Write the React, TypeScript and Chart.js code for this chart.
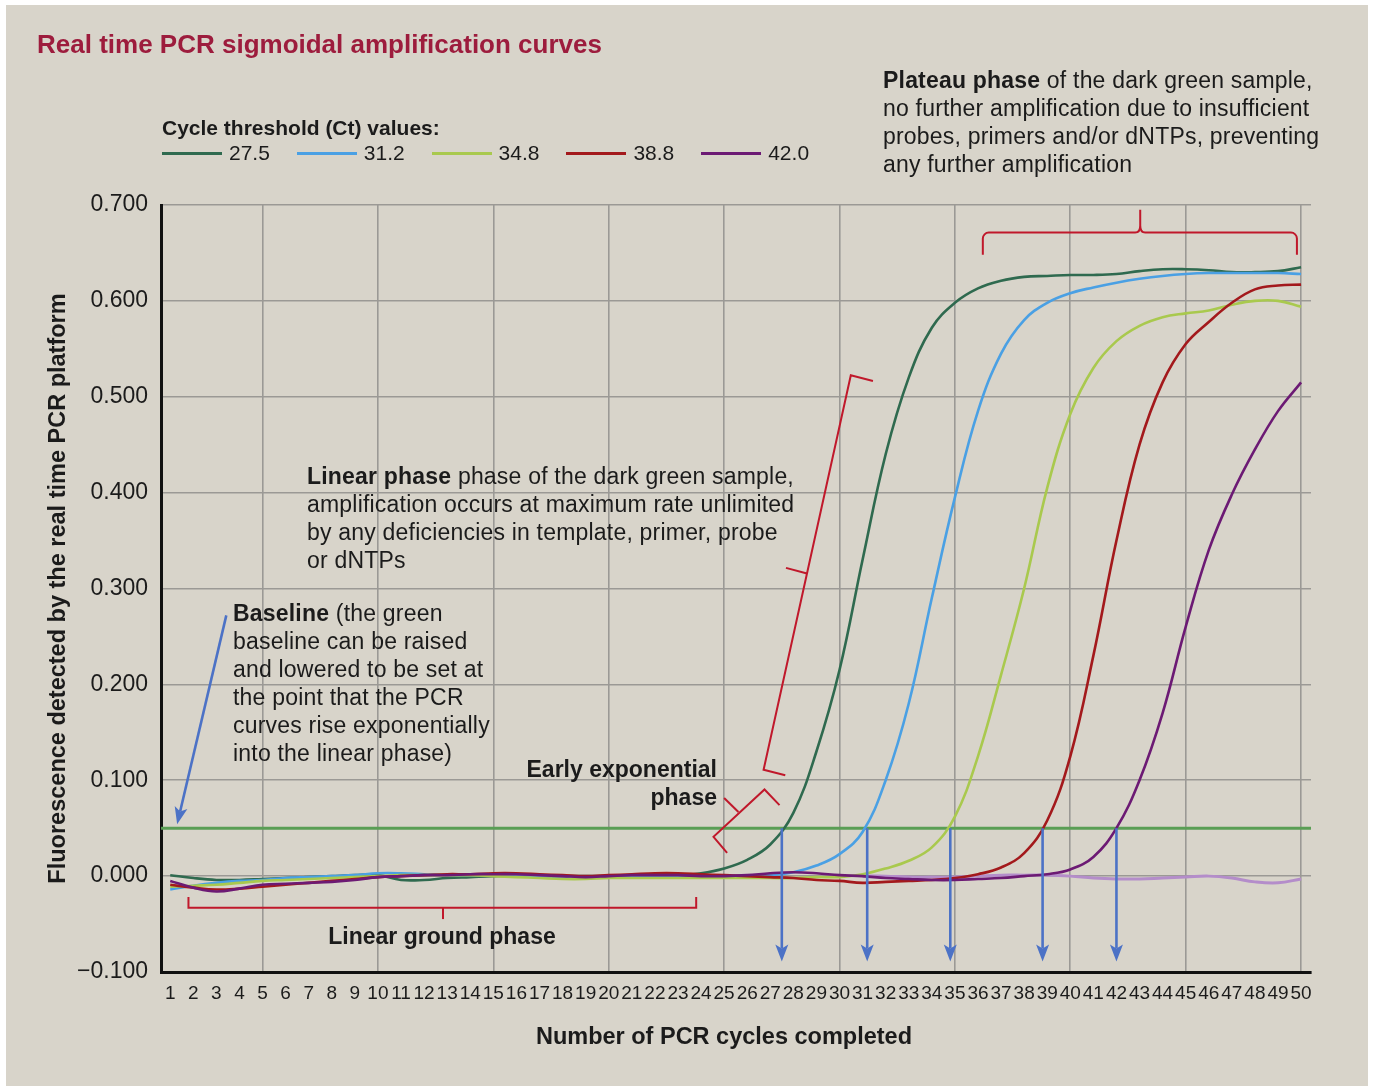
import React, { useEffect, useRef } from 'react';
import { Chart, registerables } from 'chart.js';

Chart.register(...registerables);

// ---------- DATA ----------
const CYCLES = [1, 2, 3, 4, 5, 6, 7, 8, 9, 10, 11, 12, 13, 14, 15, 16, 17, 18, 19, 20, 21, 22, 23, 24, 25, 26, 27, 28, 29, 30, 31, 32, 33, 34, 35, 36, 37, 38, 39, 40, 41, 42, 43, 44, 45, 46, 47, 48, 49, 50];

const CT_LABELS = ['27.5', '31.2', '34.8', '38.8', '42.0'];
const CT_VALUES = [27.5, 31.2, 34.8, 38.8, 42.0];

const DARK_GREEN_27_5 = [0.001, -0.002, -0.004, -0.004, -0.003, -0.002, -0.001, 0.0, 0.001, 0.001, -0.004, -0.004, -0.002, -0.001, 0.0, 0.0, 0.0, 0.0, 0.0, 0.0, 0.0, 0.0, 0.001, 0.003, 0.008, 0.017, 0.033, 0.066, 0.13, 0.215, 0.33, 0.44, 0.52, 0.572, 0.598, 0.613, 0.621, 0.625, 0.626, 0.627, 0.627, 0.628, 0.631, 0.633, 0.633, 0.632, 0.63, 0.63, 0.631, 0.635];
const BLUE_31_2 = [-0.014, -0.01, -0.007, -0.005, -0.004, -0.002, -0.001, 0.0, 0.001, 0.003, 0.003, 0.002, 0.001, 0.001, 0.001, 0.001, 0.0, 0.0, -0.001, -0.001, -0.001, -0.001, -0.001, -0.001, -0.001, 0.0, 0.001, 0.004, 0.011, 0.023, 0.046, 0.1, 0.18, 0.29, 0.395, 0.485, 0.545, 0.58, 0.598, 0.608, 0.614, 0.619, 0.623, 0.626, 0.628, 0.629, 0.629, 0.629, 0.629, 0.628];
const LIME_34_8 = [-0.011, -0.01, -0.009, -0.007, -0.005, -0.004, -0.003, -0.002, -0.001, 0.0, 0.001, 0.001, 0.001, 0.001, 0.0, -0.001, -0.002, -0.003, -0.003, -0.002, -0.002, -0.002, -0.002, -0.002, -0.002, -0.002, -0.002, -0.002, -0.001, -0.001, 0.002, 0.008, 0.016, 0.03, 0.062, 0.125, 0.21, 0.3, 0.405, 0.482, 0.53, 0.558, 0.574, 0.583, 0.587, 0.59, 0.596, 0.6, 0.6, 0.594];
const RED_38_8 = [-0.009, -0.012, -0.014, -0.013, -0.011, -0.009, -0.007, -0.005, -0.003, -0.001, 0.0, 0.001, 0.002, 0.002, 0.003, 0.003, 0.002, 0.001, 0.0, 0.001, 0.002, 0.003, 0.003, 0.002, 0.001, 0.0, -0.001, -0.002, -0.004, -0.005, -0.007, -0.006, -0.005, -0.004, -0.002, 0.002, 0.009, 0.024, 0.058, 0.125, 0.23, 0.35, 0.45, 0.515, 0.555, 0.578, 0.598, 0.612, 0.616, 0.617];
const PURPLE_42_0 = [-0.005, -0.012, -0.016, -0.013, -0.009, -0.008, -0.007, -0.006, -0.004, -0.001, 0.0, 0.001, 0.001, 0.002, 0.002, 0.002, 0.001, 0.0, -0.001, 0.0, 0.001, 0.001, 0.001, 0.0, 0.0, 0.001, 0.003, 0.004, 0.003, 0.001, 0.0, -0.002, -0.003, -0.004, -0.004, -0.003, -0.002, 0.0, 0.002, 0.007, 0.02, 0.05, 0.1, 0.17, 0.26, 0.34, 0.398, 0.445, 0.485, 0.515];
const LAVENDER_BASELINE = [null, null, null, null, null, null, null, null, null, null, null, null, null, null, null, null, null, null, null, null, null, null, null, null, null, null, null, null, null, null, 0.0, 0.0, -0.001, -0.001, -0.001, 0.0, 0.001, 0.001, 0.001, 0.0, -0.002, -0.003, -0.003, -0.002, -0.001, 0.0, -0.002, -0.006, -0.007, -0.003];

const SERIES = [DARK_GREEN_27_5, BLUE_31_2, LIME_34_8, RED_38_8, PURPLE_42_0];
const SERIES_COLORS = ['#2f6a4f', '#4aa0e4', '#a9c94e', '#a3191c', '#6c1a74'];
const LAVENDER_COLOR = '#b48dca';

const THRESHOLD = 0.05;
const Y_TICKS = [-0.1, 0, 0.1, 0.2, 0.3, 0.4, 0.5, 0.6, 0.7];
const X_MIN = 0.6;
const X_MAX = 50.43;
const ARROW_TIP_VALUE = -0.089;

// annotation geometry (data coordinates: [cycle, fluorescence])
const GROUND_BRACKET = [[1.79, -0.0219], [1.79, -0.0331], [23.79, -0.0331], [23.79, -0.0219]];
const GROUND_TICK = [[12.82, -0.0331], [12.82, -0.0448]];
const EARLY_BRACKET = [[25.13, 0.0243], [24.54, 0.041], [26.75, 0.0904], [27.4, 0.074]];
const EARLY_TICK = [[25.62, 0.0669], [25.0, 0.0815]];
const LINEAR_BRACKET = [[27.65, 0.1053], [26.71, 0.111], [30.49, 0.5224], [31.45, 0.5165]];
const LINEAR_TICK = [[28.59, 0.3156], [27.68, 0.3215]];
const PLATEAU = { x0: 36.21, x1: 49.82, xc: 43.03, yLine: 0.6712, yEnd: 0.6482, yTop: 0.6951 };
const BASELINE_ARROW = [[3.43, 0.272], [1.3, 0.0542]];

const FONT = '"Liberation Sans", Arial, Helvetica, sans-serif';
const BG = '#d8d4ca';
const GRID = '#9b9995';
const BRACKET = '#c0182b';
const ARROW = '#4c72c6';
const TEXT = '#1b1b1b';

function drawArrow(ctx: CanvasRenderingContext2D, x0: number, y0: number, x1: number, y1: number) {
  const ang = Math.atan2(y1 - y0, x1 - x0);
  const headLen = 17;
  const half = 6.5;
  const notch = 4;
  const bx = x1 - Math.cos(ang) * headLen;
  const by = y1 - Math.sin(ang) * headLen;
  ctx.strokeStyle = ARROW;
  ctx.fillStyle = ARROW;
  ctx.lineWidth = 2.6;
  ctx.beginPath();
  ctx.moveTo(x0, y0);
  ctx.lineTo(bx + Math.cos(ang) * notch, by + Math.sin(ang) * notch);
  ctx.stroke();
  const nx = -Math.sin(ang), ny = Math.cos(ang);
  ctx.beginPath();
  ctx.moveTo(x1, y1);
  ctx.lineTo(bx + nx * half, by + ny * half);
  ctx.lineTo(bx + Math.cos(ang) * notch, by + Math.sin(ang) * notch);
  ctx.lineTo(bx - nx * half, by - ny * half);
  ctx.closePath();
  ctx.fill();
}

const overlayPlugin = {
  id: 'overlay',
  afterDatasetsDraw(chart: any) {
    const { ctx } = chart;
    const xs = chart.scales.x, ys = chart.scales.y;
    const px = (c: number) => xs.getPixelForValue(c);
    const py = (v: number) => ys.getPixelForValue(v);
    ctx.save();
    ctx.strokeStyle = BRACKET;
    ctx.lineWidth = 2;
    ctx.lineJoin = 'miter';
    ctx.lineCap = 'butt';
    const poly = (pts: number[][]) => {
      ctx.beginPath();
      pts.forEach(([c, v], i) => (i ? ctx.lineTo(px(c), py(v)) : ctx.moveTo(px(c), py(v))));
      ctx.stroke();
    };
    [GROUND_BRACKET, GROUND_TICK, EARLY_BRACKET, EARLY_TICK, LINEAR_BRACKET, LINEAR_TICK].forEach(poly);

    // plateau brace
    const x0 = px(PLATEAU.x0), x1 = px(PLATEAU.x1), xc = px(PLATEAU.xc);
    const yl = py(PLATEAU.yLine), ye = py(PLATEAU.yEnd), yt = py(PLATEAU.yTop);
    ctx.beginPath();
    ctx.moveTo(x0, ye);
    ctx.arcTo(x0, yl, x0 + 10, yl, 6);
    ctx.lineTo(xc - 5, yl);
    ctx.quadraticCurveTo(xc, yl, xc, yl - 7);
    ctx.lineTo(xc, yt);
    ctx.moveTo(xc, yl - 7);
    ctx.quadraticCurveTo(xc, yl, xc + 5, yl);
    ctx.arcTo(x1, yl, x1, ye, 6);
    ctx.lineTo(x1, ye);
    ctx.stroke();

    // Ct arrows
    CT_VALUES.forEach((ct) => drawArrow(ctx, px(ct), py(THRESHOLD), px(ct), py(ARROW_TIP_VALUE)));
    const [[ac, av], [bc, bv]] = BASELINE_ARROW;
    drawArrow(ctx, px(ac), py(av), px(bc), py(bv));
    ctx.restore();
  },
};

const W = 1375;
const H = 1089;
const PAD_BOTTOM = 20;
const AREA_TOP = 205;
const AREA_BOTTOM = 972;
const AREA_LEFT = 161;
const AREA_RIGHT = 1311;

export default function App() {
  const ref = useRef<HTMLCanvasElement>(null);

  useEffect(() => {
    if (!ref.current) return;
    const toPts = (vals: (number | null)[]) => CYCLES.map((c, i) => ({ x: c, y: vals[i] }));
    const datasets: any[] = SERIES.map((vals, i) => ({
      label: CT_LABELS[i],
      data: toPts(vals),
      borderColor: SERIES_COLORS[i],
      borderWidth: 2.6,
      pointRadius: 0,
      tension: 0.4,
      fill: false,
      order: 5 - i,
    }));
    datasets.push({
      label: 'baseline',
      data: toPts(LAVENDER_BASELINE),
      borderColor: LAVENDER_COLOR,
      borderWidth: 3,
      pointRadius: 0,
      tension: 0.4,
      spanGaps: false,
      order: 6,
    });
    datasets.push({
      label: 'threshold',
      data: [{ x: X_MIN, y: THRESHOLD }, { x: X_MAX, y: THRESHOLD }],
      borderColor: '#5a9e55',
      borderWidth: 3,
      pointRadius: 0,
      order: 7,
    });

    const chart = new Chart(ref.current, {
      type: 'line',
      data: { datasets },
      plugins: [overlayPlugin],
      options: {
        responsive: false,
        animation: false,
        events: [],
        layout: { padding: { left: 0, top: AREA_TOP, right: W - AREA_RIGHT, bottom: PAD_BOTTOM } },
        plugins: { legend: { display: false }, tooltip: { enabled: false } },
        scales: {
          x: {
            type: 'linear',
            min: X_MIN,
            max: X_MAX,
            afterBuildTicks: (s: any) => {
              s.ticks = CYCLES.map((v) => ({ value: v }));
            },
            afterFit: (s: any) => {
              s.height = H - PAD_BOTTOM - AREA_BOTTOM;
            },
            grid: {
              color: (c: any) => (c.tick && c.tick.value % 5 === 0 ? GRID : 'rgba(0,0,0,0)'),
              lineWidth: 1.6,
              drawTicks: false,
            },
            border: { color: '#111111', width: 3 },
            ticks: {
              autoSkip: false,
              maxRotation: 0,
              padding: 10,
              color: TEXT,
              font: { family: FONT, size: 19 },
              callback: (v: any) => String(v),
            },
            title: { display: false },
          },
          y: {
            min: -0.1,
            max: 0.7,
            afterBuildTicks: (s: any) => {
              s.ticks = Y_TICKS.map((v) => ({ value: v }));
            },
            afterFit: (s: any) => {
              s.width = AREA_LEFT;
            },
            grid: { color: GRID, lineWidth: 1.6, drawTicks: false },
            border: { color: '#111111', width: 3 },
            ticks: {
              padding: 13,
              color: TEXT,
              font: { family: FONT, size: 23 },
              callback: (v: any) => {
                const s = Math.abs(Number(v)).toFixed(3);
                return Number(v) < -1e-9 ? '\u2212' + s : s;
              },
            },
            title: {
              display: true,
              text: 'Fluorescence detected by the real time PCR platform',
              color: TEXT,
              font: { family: FONT, size: 23.5, weight: 'bold' },
              padding: { top: 44, bottom: 0 },
            },
          },
        },
      } as any,
    });
    return () => chart.destroy();
  }, []);

  const abs = (l: number, t: number, extra: React.CSSProperties = {}): React.CSSProperties => ({
    position: 'absolute',
    left: l,
    top: t,
    whiteSpace: 'nowrap',
    fontFamily: FONT,
    color: TEXT,
    ...extra,
  });
  const para: React.CSSProperties = { fontSize: 23, lineHeight: '28px', letterSpacing: '0.2px' };

  return (
    <div style={{ position: 'absolute', left: 0, top: 0, width: W, height: H, background: '#ffffff', overflow: 'hidden' }}>
      <div style={{ position: 'absolute', left: 6, top: 5, width: 1362, height: 1081, background: BG }} />
      <canvas ref={ref} width={W} height={H} style={{ position: 'absolute', left: 0, top: 0, width: W, height: H }} />

      <div style={abs(37, 29, { fontSize: 26, lineHeight: '30px', fontWeight: 'bold', color: '#9d1c3d' })}>
        Real time PCR sigmoidal amplification curves
      </div>

      <div style={abs(162, 116, { fontSize: 21, lineHeight: '24px', fontWeight: 'bold' })}>Cycle threshold (Ct) values:</div>
      {CT_LABELS.map((lab, i) => (
        <div key={lab} style={abs(162 + i * 134.8, 141, { height: 24, width: 130 })}>
          <div style={{ position: 'absolute', left: 0, top: 11, width: 60, height: 3, background: SERIES_COLORS[i] }} />
          <div style={{ position: 'absolute', left: 67, top: 0, fontSize: 21, lineHeight: '24px' }}>{lab}</div>
        </div>
      ))}

      <div style={abs(883, 66, para)}>
        <b>Plateau phase</b> of the dark green sample,
        <br />
        no further amplification due to insufficient
        <br />
        probes, primers and/or dNTPs, preventing
        <br />
        any further amplification
      </div>

      <div style={abs(307, 462, para)}>
        <b>Linear phase</b> phase of the dark green sample,
        <br />
        amplification occurs at maximum rate unlimited
        <br />
        by any deficiencies in template, primer, probe
        <br />
        or dNTPs
      </div>

      <div style={abs(233, 599, para)}>
        <b>Baseline</b> (the green
        <br />
        baseline can be raised
        <br />
        and lowered to be set at
        <br />
        the point that the PCR
        <br />
        curves rise exponentially
        <br />
        into the linear phase)
      </div>

      <div style={abs(417, 755, { ...para, letterSpacing: 0, fontWeight: 'bold', width: 300, textAlign: 'right' })}>
        Early exponential
        <br />
        phase
      </div>

      <div style={abs(292, 922, { ...para, letterSpacing: 0, fontWeight: 'bold', width: 300, textAlign: 'center' })}>Linear ground phase</div>

      <div style={abs(474, 1022, { fontSize: 23.5, lineHeight: '28px', fontWeight: 'bold', width: 500, textAlign: 'center' })}>
        Number of PCR cycles completed
      </div>
    </div>
  );
}
